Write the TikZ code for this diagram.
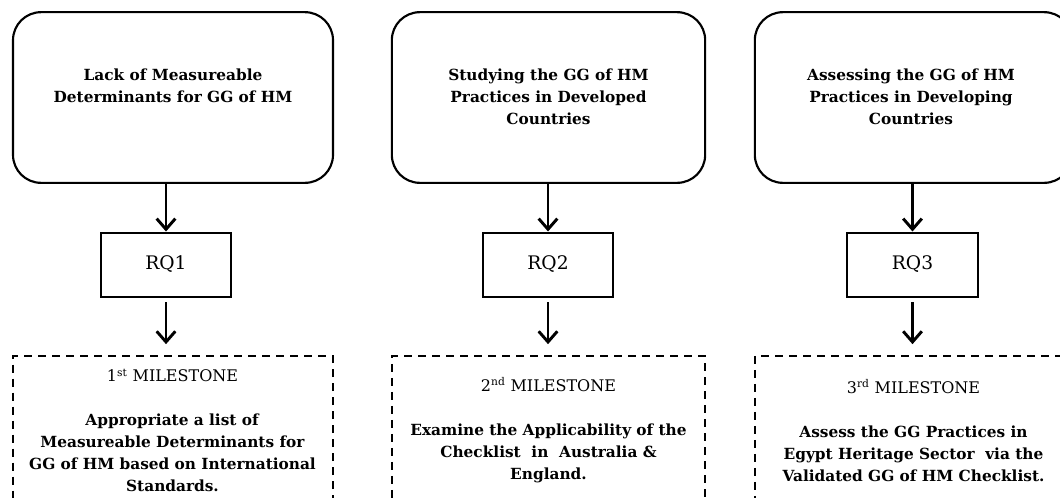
\documentclass[tikz,border=0pt]{standalone}
\usepackage{fontspec}
\setmainfont{DejaVu Serif}
\usetikzlibrary{arrows.meta, calc}
\tikzset{flow/.style={-{Straight Barb[length=8pt, width=14pt, line width=2.2pt]}, line width=2.2pt}}
\tikzset{issue/.style={draw, line width=1.6pt, rounded corners=21pt, minimum height=128pt},
  issuetext/.style={anchor=north, inner sep=0pt, align=center,
    font=\fontsize{11.5}{16.5}\selectfont\bfseries},
  rq/.style={draw, line width=1.5pt, minimum width=98pt, minimum height=48pt,
    font=\fontsize{14}{16}\selectfont},
  milestone/.style={draw, line width=1.5pt, dash pattern=on 6pt off 4.5pt,
    minimum height=112pt, align=center, font=\fontsize{11.5}{16.5}\selectfont}}
\newcommand{\mstitle}[2]{{\fontsize{12}{16.5}\selectfont #1\textsuperscript{#2} MILESTONE}}

\begin{document}
\begin{tikzpicture}[x=0.75pt, y=-0.75pt]
  \useasboundingbox (0,0) rectangle (1060,497);
  \clip (0,0) rectangle (1060,497);
  % top row
  \node[issue, minimum width=240pt] (top1) at (173,97.5) {};
  \node[issue, minimum width=235pt] (top2) at (548.5,97.5) {};
  \node[issue, minimum width=238pt] (top3) at (913.5,97.5) {};
  \node[issuetext] (top1t) at (173,69) {Lack of Measureable\\Determinants for GG of HM};
  \node[issuetext] (top2t) at (548.5,69) {Studying the GG of HM\\Practices in Developed\\Countries};
  \node[issuetext] (top3t) at (911,69) {Assessing the GG of HM\\Practices in Developing\\Countries};
  % research questions
  \node[rq] (rq1) at (166,264.5) {RQ1};
  \node[rq] (rq2) at (548,264.5) {RQ2};
  \node[rq] (rq3) at (912.5,264.5) {RQ3};
  % milestones
  \node[milestone, minimum width=240pt] (ms1) at (172.5,430.5)
    {\mstitle{1}{st}\\[16.5pt]
     \textbf{Appropriate a list of}\\\textbf{Measureable Determinants for}\\
     \textbf{GG of HM based on International}\\\textbf{Standards.}};
  \node[milestone, minimum width=235pt] (ms2) at (548.5,430.5)
    {\mstitle{2}{nd}\\[16.5pt]
     \textbf{Examine the Applicability of the}\\\textbf{Checklist~ in~ Australia \&}\\
     \textbf{England.}};
  \node[milestone, minimum width=238pt] (ms3) at (913.5,430.5)
    {\mstitle{3}{rd}\\[16.5pt]
     \textbf{Assess the GG Practices in}\\\textbf{Egypt Heritage Sector~ via the}\\
     \textbf{Validated GG of HM Checklist.}};
  % arrows
  \foreach \i in {1,2,3} {
    \draw[flow] (rq\i.north |- top\i.south) -- (rq\i.north);
    \draw[flow, shorten <=3.5pt, shorten >=8pt] (rq\i.south) -- (rq\i.south |- ms\i.north);
  }
\end{tikzpicture}
\end{document}
